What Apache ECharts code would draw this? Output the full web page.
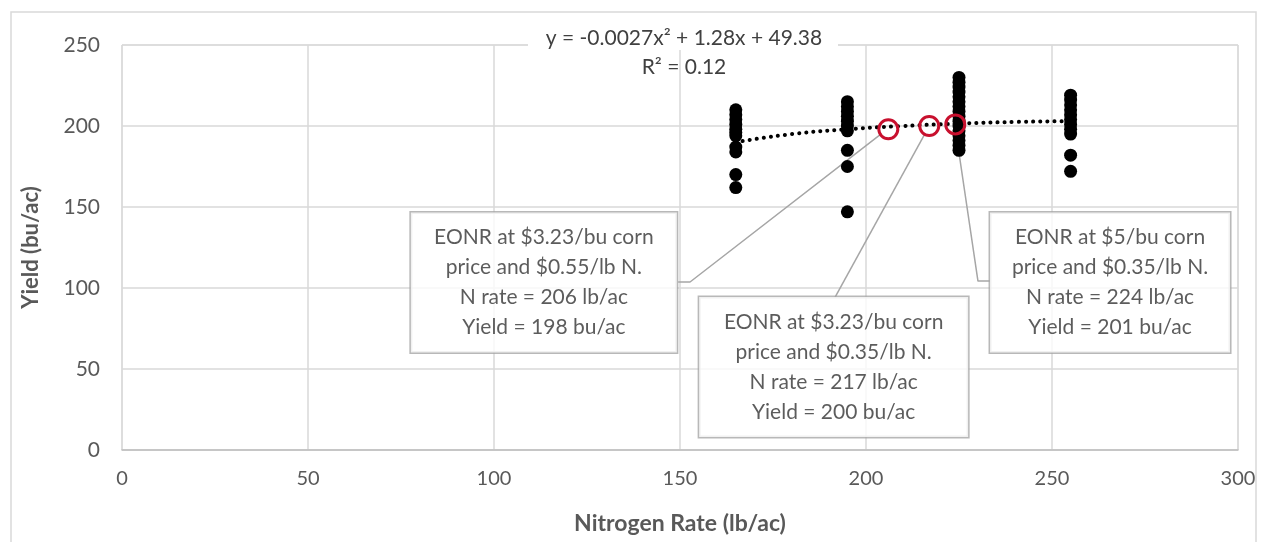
<!DOCTYPE html>
<html>
<head>
<meta charset="utf-8">
<script src="https://cdn.jsdelivr.net/npm/echarts@6/dist/echarts.min.js"></script>
<style>
  html, body { margin: 0; padding: 0; background: #fff; }
  #main { width: 1267px; height: 542px; }
</style>
</head>
<body>
<div id="main"></div>
<script>
// N rates (lb/ac) and yields (bu/ac)
var nRates = [165, 195, 225, 255];
var yield165 = [210, 207, 204, 201, 198, 196, 194, 187, 184, 170, 162];
var yield195 = [215, 212, 209, 206, 203, 200, 197, 185, 175, 147];
var yield225 = [230, 227, 224, 221, 218, 215, 212, 209, 206, 203, 200, 197, 194, 191, 188, 185];
var yield255 = [219, 216, 213, 210, 207, 204, 201, 198, 195, 182, 172];

// fitted curve as drawn in the picture
var trendX = [165, 180, 195, 210, 225, 240, 255];
var trendY = [190, 195, 198, 200, 201.5, 202.5, 203];

// economic optimum N rates
var eonrRate = [206, 217, 224];
var eonrYield = [198, 200, 201];

// annotation text
var noteText = [
  "EONR at $3.23/bu corn\nprice and $0.55/lb N.\nN rate = 206 lb/ac\nYield = 198 bu/ac",
  "EONR at $3.23/bu corn\nprice and $0.35/lb N.\nN rate = 217 lb/ac\nYield = 200 bu/ac",
  "EONR at $5/bu corn\nprice and $0.35/lb N.\nN rate = 224 lb/ac\nYield = 201 bu/ac"
];
var noteAt = [[113.4, 103.4], [191.3, 51.2], [265.6, 103.4]];
var leaders = [
  [[204.0, 195], [152.7, 103.7], [149.5, 103.7]],
  [[215.9, 195.4], [191.7, 94.4]],
  [[224.2, 195.7], [230.1, 104.3], [233.3, 104.3]]
];

var yieldCols = [yield165, yield195, yield225, yield255];
var points = [];
for (var i = 0; i < nRates.length; i++) {
  for (var j = 0; j < yieldCols[i].length; j++) {
    points.push([nRates[i], yieldCols[i][j]]);
  }
}
var trend = trendX.map(function (x, k) { return [x, trendY[k]]; });
var eonr = eonrRate.map(function (x, k) { return [x, eonrYield[k]]; });

var FONT = "Lato";
var boxW = [266, 269, 240];

var series = [];
// leader lines
leaders.forEach(function (pts) {
  series.push({
    type: "line",
    data: pts,
    symbol: "none",
    silent: true,
    z: 2,
    lineStyle: { color: "#a6a6a6", width: 1.5 }
  });
});
series.push({
  name: "Yield",
  type: "scatter",
  data: points,
  symbolSize: 13,
  z: 3,
  itemStyle: { color: "#000", opacity: 1 }
});
series.push({
  name: "Trend",
  type: "line",
  data: trend,
  smooth: true,
  symbol: "none",
  z: 4,
  lineStyle: { color: "#000", width: 4, type: [0.1, 7], cap: "round" }
});
series.push({
  name: "EONR",
  type: "scatter",
  data: eonr,
  symbolSize: 19,
  z: 5,
  itemStyle: { color: "rgba(0,0,0,0)", borderColor: "#c8102e", borderWidth: 3, opacity: 1 }
});
series.push({
  name: "Notes",
  type: "scatter",
  symbolSize: 1,
  z: 6,
  silent: true,
  itemStyle: { color: "rgba(0,0,0,0)" },
  data: noteAt.map(function (p, k) {
    return {
      value: p,
      label: {
        show: true,
        position: "inside",
        formatter: noteText[k],
        width: boxW[k],
        lineHeight: 30,
        padding: [10, 0],
        align: "center",
        verticalAlign: "middle",
        fontFamily: FONT,
        fontSize: 21,
        color: "#333",
        backgroundColor: "#fff",
        borderColor: "#a6a6a6",
        borderWidth: 1.5
      }
    };
  })
});

var chart = echarts.init(document.getElementById("main"));
chart.setOption({
  animation: false,
  backgroundColor: "#fff",
  textStyle: { fontFamily: FONT },
  grid: {
    left: 122, right: 29, top: 45, bottom: 92,
    show: true, borderColor: "#d9d9d9", borderWidth: 1
  },
  graphic: [
    {
      type: "rect", z: -1,
      shape: { x: 11, y: 12, width: 1245, height: 560 },
      style: { fill: "none", stroke: "#d9d9d9", lineWidth: 1.5 }
    },
    {
      type: "rect", z: 10,
      shape: { x: 528, y: 26, width: 310, height: 24 },
      style: { fill: "#fff" }
    },
    {
      type: "text", z: 11,
      style: {
        text: "y = -0.0027x\u00b2 + 1.28x + 49.38",
        x: 684, y: 38, align: "center", verticalAlign: "middle",
        font: "21px " + FONT, fill: "#404040"
      }
    },
    {
      type: "text", z: 11,
      style: {
        text: "R\u00b2 = 0.12",
        x: 684, y: 67, align: "center", verticalAlign: "middle",
        font: "21px " + FONT, fill: "#404040"
      }
    }
  ],
  xAxis: {
    type: "value",
    min: 0, max: 300, interval: 50,
    name: "Nitrogen Rate (lb/ac)",
    nameLocation: "middle",
    nameGap: 62,
    nameTextStyle: { fontSize: 23, fontWeight: "bold", color: "#595959", fontFamily: FONT },
    axisLine: { show: true, lineStyle: { color: "#bfbfbf", width: 1.5 } },
    axisTick: { show: false },
    axisLabel: { fontSize: 20, color: "#595959", margin: 19, fontFamily: FONT },
    splitLine: { show: true, lineStyle: { color: "#d9d9d9", width: 1.5 } }
  },
  yAxis: {
    type: "value",
    min: 0, max: 250, interval: 50,
    name: "Yield (bu/ac)",
    nameLocation: "middle",
    nameGap: 80,
    nameTextStyle: { fontSize: 22, fontWeight: "bold", color: "#595959", fontFamily: FONT },
    axisLine: { show: false },
    axisTick: { show: false },
    axisLabel: { fontSize: 21, color: "#595959", margin: 22, fontFamily: FONT },
    splitLine: { show: true, lineStyle: { color: "#d9d9d9", width: 1.5 } }
  },
  series: series
});
</script>
</body>
</html>
